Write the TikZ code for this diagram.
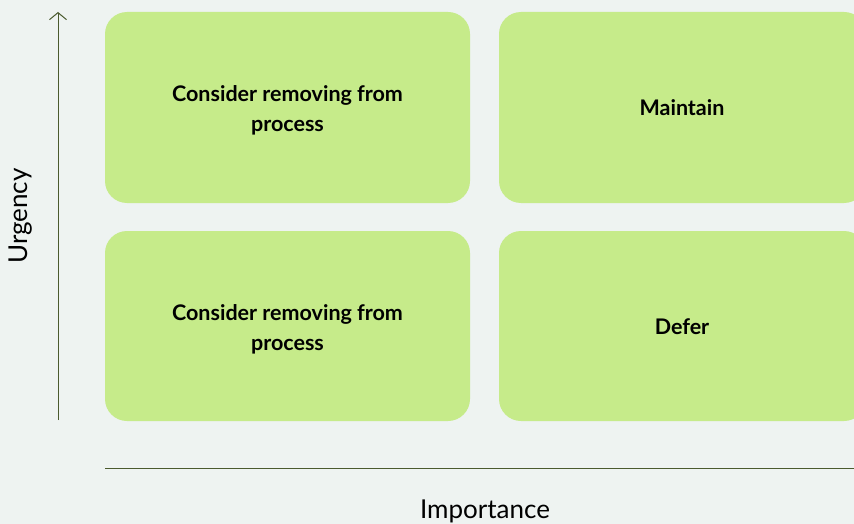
\documentclass[tikz,border=0pt]{standalone}
\usepackage{fontspec}
\setmainfont{Lato}
\usetikzlibrary{arrows.meta}
\definecolor{bg}{HTML}{EEF3F1}
\definecolor{boxg}{HTML}{C6EB8A}
\definecolor{axis}{HTML}{4A5A2E}
\tikzset{
  quad/.style={fill=boxg, rounded corners=22pt},
  qlabel/.style={font=\fontsize{21.5}{30}\selectfont\bfseries, align=center, text=black},
  axlabel/.style={font=\fontsize{26}{30}\selectfont, text=black}
}
\begin{document}
\begin{tikzpicture}[x=1pt,y=-1pt]
\path[use as bounding box, fill=bg] (0,0) rectangle (854,524);
\clip (0,0) rectangle (854,524);
\fill[quad] (105,12) rectangle (470,203);
\fill[quad] (499,12) rectangle (866,203);
\fill[quad] (105,231) rectangle (470,421);
\fill[quad] (499,231) rectangle (866,421);
\node[qlabel] (q1) at (287.5,110.5) {Consider removing from\\process};
\node[qlabel] (q2) at (682,108) {Maintain};
\node[qlabel] (q3) at (287.5,329) {Consider removing from\\process};
\node[qlabel] (q4) at (682,327) {Defer};
\coordinate (ybot) at (58,420);
\coordinate (ytop) at (58,12);
\draw[axis, line width=1pt, -{Straight Barb[length=7pt,width=17pt]}] (ybot) -- (ytop);
\coordinate (xl) at (105,468);
\coordinate (xr) at (854,468);
\draw[axis, line width=1pt] (xl) -- (xr);
\node[axlabel, rotate=90] (ul) at (21,216) {Urgency};
\node[axlabel] (il) at (485,511) {Importance};
\end{tikzpicture}
\end{document}
